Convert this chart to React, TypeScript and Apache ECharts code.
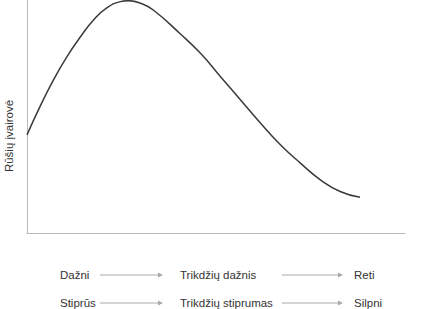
import React, { useEffect, useRef } from "react";
import * as echarts from "echarts";

const curveX = [0, 3.4, 7.0, 10.5, 14.1, 17.6, 21.1, 24.7, 26.8, 30.0, 33.4, 40.6, 45.9, 51.2, 56.5, 61.8, 67.1, 72.4, 77.7, 83.0, 88.1];
const curveY = [42.1, 54.1, 65.7, 75.5, 84.1, 91.4, 96.6, 99.3, 99.7, 98.6, 95.7, 85.4, 77.1, 67.1, 57.1, 47.1, 37.8, 29.9, 22.7, 17.7, 15.3];
const yLabel = "Rūšių įvairovė";
const row1 = ["Dažni", "Trikdžių dažnis", "Reti"];
const row2 = ["Stiprūs", "Trikdžių stiprumas", "Silpni"];

export default function App() {
  const ref = useRef<HTMLDivElement>(null);
  useEffect(() => {
    if (!ref.current) return;
    const chart = echarts.init(ref.current, null, { renderer: "svg" });
    const font = "Liberation Sans, Arial, sans-serif";
    const textColor = "#333";
    const arrowColor = "#aaa";
    const mkText = (t: string, x: number, y: number) => ({
      type: "text",
      x,
      y,
      style: { text: t, fill: textColor, font: `11.5px ${font}`, textVerticalAlign: "middle" },
    });
    const mkArrow = (x1: number, x2: number, y: number) => [
      { type: "line", shape: { x1, y1: y, x2: x2 - 2, y2: y }, style: { stroke: arrowColor, lineWidth: 1 } },
      {
        type: "polygon",
        shape: { points: [[x2 - 5, y - 2.5], [x2, y], [x2 - 5, y + 2.5]] },
        style: { fill: arrowColor },
      },
    ];
    const rows = [
      { labels: row1, y: 275 },
      { labels: row2, y: 303 },
    ];
    const graphics: any[] = [];
    rows.forEach((r) => {
      graphics.push(mkText(r.labels[0], 60, r.y));
      graphics.push(...mkArrow(100, 163, r.y));
      graphics.push(mkText(r.labels[1], 180, r.y));
      graphics.push(...mkArrow(282, 343, r.y));
      graphics.push(mkText(r.labels[2], 354, r.y));
    });
    graphics.push({
      type: "text",
      x: 9,
      y: 136,
      rotation: Math.PI / 2,
      style: {
        text: yLabel,
        fill: textColor,
        font: `11.5px ${font}`,
        textAlign: "center",
        textVerticalAlign: "middle",
      },
    });
    chart.setOption({
      animation: false,
      grid: { left: 27, top: 0, right: 22, bottom: 76, containLabel: false },
      xAxis: {
        type: "value",
        min: 0,
        max: 100,
        axisLine: { show: true, lineStyle: { color: "#bbb", width: 1 } },
        axisTick: { show: false },
        axisLabel: { show: false },
        splitLine: { show: false },
      },
      yAxis: {
        type: "value",
        min: 0,
        max: 100,
        axisLine: { show: true, lineStyle: { color: "#bbb", width: 1 } },
        axisTick: { show: false },
        axisLabel: { show: false },
        splitLine: { show: false },
      },
      series: [
        {
          type: "line",
          smooth: 0.5,
          symbol: "none",
          clip: false,
          data: curveX.map((x, i) => [x, curveY[i]]),
          lineStyle: { color: "#3a3a3a", width: 1.5 },
        },
      ],
      graphic: graphics,
    });
    return () => chart.dispose();
  }, []);
  return <div ref={ref} style={{ width: 427, height: 309, position: "absolute", left: 0, top: 0 }} />;
}
